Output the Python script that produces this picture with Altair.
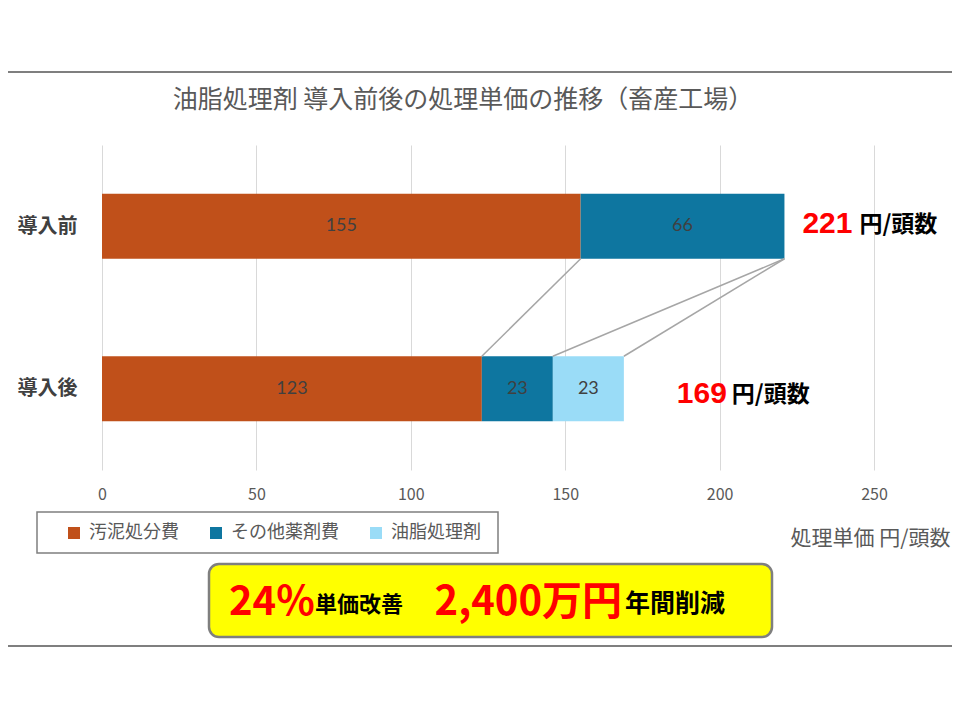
import altair as alt
import pandas as pd

# ---------------- data ----------------
categories = ["導入前", "導入後"]
series = ["汚泥処分費", "その他薬剤費", "油脂処理剤"]
sludge = [155, 123]
other_chem = [66, 23]
grease = [0, 23]
totals = [221, 169]
x_ticks = [0, 50, 100, 150, 200, 250]
title_text = "油脂処理剤 導入前後の処理単価の推移（畜産工場）"
x_title = "処理単価 円/頭数"
unit_text = "円/頭数"
callout = ["24%", "単価改善", "2,400万円", "年間削減"]

colors = ["#C0501A", "#0E76A0", "#9ADCF7"]
JP = "Noto Sans CJK JP"

# ---------------- tables ----------------
rows = []
for i, cat in enumerate(categories):
    center = 7.5 - 5 * i
    start = 0
    for s, vals in zip(series, [sludge, other_chem, grease]):
        v = vals[i]
        rows.append(dict(category=cat, series=s, value=v, start=start, end=start + v,
                         y0=center - 1, y1=center + 1, yc=center, mid=start + v / 2))
        start += v
df = pd.DataFrame(rows)

conn_rows = []
before = df[df.category == categories[0]].reset_index(drop=True)
after = df[df.category == categories[1]].reset_index(drop=True)
for k in range(len(series)):
    conn_rows.append(dict(xa=before.loc[k, "end"], xb=after.loc[k, "end"],
                          ya=before.loc[k, "y0"], yb=after.loc[k, "y1"]))
conn = pd.DataFrame(conn_rows)

tot = pd.DataFrame(dict(category=categories, total=totals,
                        yc=[7.5 - 5 * i for i in range(len(categories))],
                        unit=[unit_text] * len(categories)))

xs = alt.Scale(domain=[0, 250], nice=False, zero=True)
ys = alt.Scale(domain=[0, 10], nice=False)

xaxis = alt.Axis(values=x_ticks, title=x_title, grid=True, gridColor="#D9D9D9",
                 domain=False, ticks=False, labelPadding=16, labelFontSize=16,
                 labelFlush=False,
                 labelColor="#595959", labelFont=JP, titleX=848, titleY=68,
                 titleAlign="right", titleBaseline="middle", titleFontSize=21,
                 titleFontWeight="normal", titleColor="#595959", titleFont=JP)
yaxis = alt.Axis(values=[2.5, 7.5],
                 labelExpr=f"datum.value > 5 ? '{categories[0]}' : '{categories[1]}'",
                 title=None, domain=False, ticks=False, grid=False, labelFontSize=20,
                 labelFontWeight="bold", labelColor="#404040", labelPadding=25, labelFont=JP)

one = pd.DataFrame({"a": [0]})

top_line = alt.Chart(one).mark_rule(color="#7F7F7F", strokeWidth=2).encode(
    x=alt.value(-110), x2=alt.value(870), y=alt.value(-73))
bottom_line = alt.Chart(one).mark_rule(color="#7F7F7F", strokeWidth=2).encode(
    x=alt.value(-110), x2=alt.value(870), y=alt.value(501))
legend_box = alt.Chart(one).mark_rect(fill="white", stroke="#7F7F7F", strokeWidth=1.5).encode(
    x=alt.value(-65), x2=alt.value(396), y=alt.value(367), y2=alt.value(408))
title_mark = alt.Chart(one).mark_text(font=JP, fontSize=25, fontWeight="normal",
                                      color="#595959", align="center",
                                      baseline="middle").encode(
    x=alt.value(361), y=alt.value(-45), text=alt.value(title_text))

bars = alt.Chart(df).mark_bar().encode(
    x=alt.X("start:Q", scale=xs, axis=xaxis),
    x2="end:Q",
    y=alt.Y("y0:Q", scale=ys, axis=yaxis),
    y2="y1:Q",
    color=alt.Color("series:N", scale=alt.Scale(domain=series, range=colors),
                    legend=alt.Legend(title=None, orient="none", legendX=-37, legendY=379,
                                      direction="horizontal", symbolType="square",
                                      symbolSize=144, symbolStrokeWidth=0,
                                      labelFontSize=18, labelColor="#595959", labelFont=JP,
                                      columnPadding=28, labelOffset=6, padding=0,
                                      labelLimit=300)),
)

bar_labels = alt.Chart(df).transform_filter("datum.value > 0").mark_text(
    font="Lato", fontSize=18, color="#404040").encode(
    x=alt.X("mid:Q", scale=xs, axis=xaxis),
    y=alt.Y("yc:Q", scale=ys, axis=yaxis),
    text=alt.Text("value:Q"))

connectors = alt.Chart(conn).mark_rule(color="#A6A6A6", strokeWidth=1.5).encode(
    x=alt.X("xa:Q", scale=xs, axis=xaxis), x2="xb:Q",
    y=alt.Y("ya:Q", scale=ys, axis=yaxis), y2="yb:Q")

def total_layers(cat, num_dx, unit_dx, dy):
    base = alt.Chart(tot).transform_filter(alt.datum.category == cat)
    num = base.mark_text(font="Liberation Sans", fontSize=30, fontWeight="bold",
                         color="#FF0000", align="right", dx=num_dx, dy=dy).encode(
        x=alt.X("total:Q", scale=xs, axis=xaxis),
        y=alt.Y("yc:Q", scale=ys, axis=yaxis),
        text=alt.Text("total:Q"))
    un = base.mark_text(font=JP, fontSize=23, fontWeight="bold", color="#000000",
                        align="left", dx=unit_dx, dy=dy + 1).encode(
        x=alt.X("total:Q", scale=xs, axis=xaxis),
        y=alt.Y("yc:Q", scale=ys, axis=yaxis),
        text="unit:N")
    return num + un

tot_before = total_layers(categories[0], 68, 75, -2)
tot_after = total_layers(categories[1], 103, 108, 5)

callout_box = alt.Chart(one).mark_rect(fill="#FFFF00", stroke="#7F7F7F", strokeWidth=2.5,
                                       cornerRadius=10).encode(
    x=alt.value(107), x2=alt.value(670), y=alt.value(419), y2=alt.value(492))
c1 = alt.Chart(one).mark_text(font=JP, fontSize=40, fontWeight="bold", color="#FF0000",
                              align="left", baseline="alphabetic").encode(
    x=alt.value(127), y=alt.value(470), text=alt.value(callout[0]))
c2 = alt.Chart(one).mark_text(font=JP, fontSize=22, fontWeight="bold", color="#000000",
                              align="left", baseline="alphabetic").encode(
    x=alt.value(213), y=alt.value(467), text=alt.value(callout[1]))
c3 = alt.Chart(one).mark_text(font=JP, fontSize=40, fontWeight="bold", color="#FF0000",
                              align="right", baseline="alphabetic").encode(
    x=alt.value(520), y=alt.value(470), text=alt.value(callout[2]))
c4 = alt.Chart(one).mark_text(font=JP, fontSize=25, fontWeight="bold", color="#000000",
                              align="left", baseline="alphabetic").encode(
    x=alt.value(523), y=alt.value(467), text=alt.value(callout[3]))

chart = alt.layer(
    top_line, bottom_line, legend_box, title_mark, bars, bar_labels, connectors,
    tot_before, tot_after, callout_box, c1, c2, c3, c4
).properties(
    width=772, height=325,
    autosize=alt.AutoSizeParams(type="none"),
    padding={"left": 94, "top": 137, "right": 78, "bottom": 200},
).configure_view(strokeWidth=0)

chart.save("out.html", embed_options={"renderer": "svg", "actions": False})
